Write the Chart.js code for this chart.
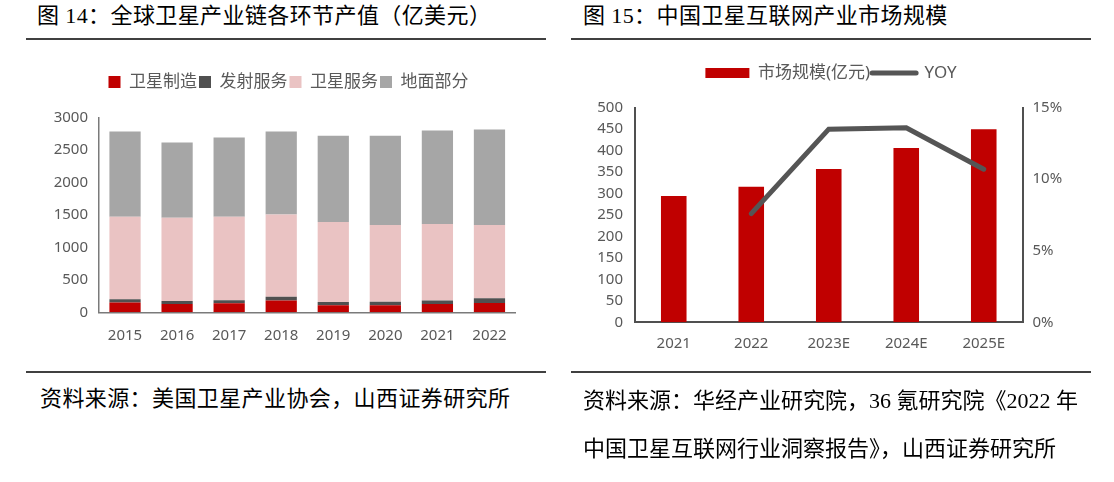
<!DOCTYPE html>
<html><head><meta charset="utf-8">
<script src="https://cdn.jsdelivr.net/npm/chart.js@4.4.0/dist/chart.umd.min.js"></script>
<style>
html,body{margin:0;padding:0;background:#fff;}
body{width:1114px;height:482px;position:relative;overflow:hidden;font-family:"Liberation Serif","Noto Sans CJK SC",serif;color:#000;}
.t{position:absolute;font-size:22px;line-height:30px;white-space:nowrap;letter-spacing:0.4px;}
.src{position:absolute;font-size:22px;line-height:48px;white-space:nowrap;}
.rule{position:absolute;height:2px;background:#404040;}
canvas{position:absolute;}
</style></head><body>
<div class="t" style="left:37px;top:1px">图 14：全球卫星产业链各环节产值（亿美元）</div>
<div class="t" style="left:583px;top:1px">图 15：中国卫星互联网产业市场规模</div>
<div class="rule" style="left:26px;top:38px;width:520px"></div>
<div class="rule" style="left:571px;top:38px;width:520px"></div>
<canvas id="c14" width="577" height="320" style="left:0px;top:50px;width:577px;height:320px"></canvas>
<canvas id="c15" width="539" height="330" style="left:575px;top:40px;width:539px;height:330px"></canvas>
<div class="rule" style="left:26px;top:371px;width:520px"></div>
<div class="rule" style="left:571px;top:371px;width:520px"></div>
<div class="src" style="left:40px;top:375px;letter-spacing:0.4px">资料来源：美国卫星产业协会，山西证券研究所</div>
<div class="src" style="left:583px;top:377px">资料来源：华经产业研究院，36 氪研究院《2022 年<br>中国卫星互联网行业洞察报告》，山西证券研究所</div>
<script>
// ---- Figure 14 data ----
const years14 = ['2015','2016','2017','2018','2019','2020','2021','2022'];
const seriesNames14 = ['卫星制造','发射服务','卫星服务','地面部分'];
const satManufacturing = [150, 128, 138, 180, 108, 108, 128, 143];
const launchServices   = [50, 46, 47, 61, 51, 56, 52, 72];
const satServices      = [1270, 1282, 1287, 1267, 1231, 1179, 1178, 1128];
const groundSegment    = [1315, 1159, 1220, 1277, 1328, 1375, 1442, 1472];
const yTicks14 = [0, 500, 1000, 1500, 2000, 2500, 3000];

// ---- Figure 15 data ----
const years15 = ['2021','2022','2023E','2024E','2025E'];
const seriesNames15 = ['市场规模(亿元)','YOY'];
const marketSize = [294, 316, 357, 406, 450];
const yoyPct = [null, 7.6, 13.5, 13.6, 10.7];
const yTicks15 = [0, 50, 100, 150, 200, 250, 300, 350, 400, 450, 500];
const yTicks15Right = [0, 5, 10, 15];

const FONT = "'Noto Sans', 'Noto Sans CJK SC', sans-serif";
const TICK = '#595959';

const legendGap = {
  id: 'legendGap',
  beforeUpdate(chart, args, opts) {
    const lg = chart.legend;
    if (lg && !lg._gapPatched) {
      const fit = lg.fit;
      lg.fit = function () { fit.call(this); this.height += (opts.extra || 0); };
      lg._gapPatched = true;
    }
  }
};

const colors14 = ['#C00000', '#505050', '#EAC3C3', '#A6A6A6'];
const values14 = [satManufacturing, launchServices, satServices, groundSegment];

new Chart(document.getElementById('c14'), {
  type: 'bar',
  data: {
    labels: years14,
    datasets: seriesNames14.map((n, i) => ({
      label: n, data: values14[i], backgroundColor: colors14[i],
      borderWidth: 0, barPercentage: 0.6, categoryPercentage: 1.0
    }))
  },
  options: {
    responsive: false, animation: false, devicePixelRatio: 1,
    layout: { padding: { top: 21.5, left: 0, right: 0, bottom: 0 } },
    plugins: {
      legend: {
        position: 'top',
        labels: { font: { family: FONT, size: 17 }, color: TICK, boxWidth: 12, boxHeight: 12, padding: 2 }
      },
      legendGap: { extra: 17 },
      tooltip: { enabled: false }
    },
    scales: {
      x: {
        stacked: true,
        grid: { display: false, drawTicks: false },
        border: { display: true, color: '#7a7a7a', width: 1.5 },
        ticks: { font: { family: FONT, size: 15 }, color: TICK, padding: 14, maxRotation: 0 },
        afterFit(s) { s.height = 57.7; }
      },
      y: {
        stacked: true, min: 0, max: 3000,
        grid: { display: false, drawTicks: false },
        border: { display: true, color: '#7a7a7a', width: 1.5 },
        afterBuildTicks(s) { s.ticks = yTicks14.map(v => ({ value: v })); },
        ticks: { font: { family: FONT, size: 15 }, color: TICK, padding: 11, callback: v => String(v) },
        afterFit(s) { s.width = 99; }
      },
      spacer: {
        position: 'right', min: 0, max: 1,
        grid: { display: false, drawTicks: false },
        border: { display: false },
        ticks: { display: false },
        afterFit(s) { s.width = 61.5; }
      }
    }
  },
  plugins: [legendGap]
});

new Chart(document.getElementById('c15'), {
  type: 'bar',
  data: {
    labels: years15,
    datasets: [
      { type: 'bar', label: seriesNames15[0], data: marketSize, backgroundColor: '#C00000',
        borderWidth: 0, barPercentage: 0.33, categoryPercentage: 1.0, yAxisID: 'y', order: 1 },
      { type: 'line', label: seriesNames15[1], data: yoyPct, borderColor: '#555555', backgroundColor: '#555555',
        borderWidth: 5, pointRadius: 0, tension: 0, borderCapStyle: 'round', borderJoinStyle: 'miter',
        yAxisID: 'y1', order: 0 }
    ]
  },
  options: {
    responsive: false, animation: false, devicePixelRatio: 1,
    layout: { padding: { top: 22.5, left: 0, right: 27, bottom: 0 } },
    plugins: {
      legend: {
        position: 'top',
        labels: {
          font: { family: FONT, size: 17 }, color: TICK, padding: 2,
          usePointStyle: true, pointStyleWidth: 44, boxWidth: 44, boxHeight: 10,
          sort: (a, b) => a.datasetIndex - b.datasetIndex,
          generateLabels(chart) {
            const items = Chart.defaults.plugins.legend.labels.generateLabels(chart);
            items.forEach(it => {
              if (it.datasetIndex === 0) { it.pointStyle = 'rect'; it.lineWidth = 0; }
              else { it.pointStyle = 'line'; it.lineWidth = 5; it.strokeStyle = '#555555'; it.lineCap = 'round'; }
            });
            return items;
          }
        }
      },
      legendGap: { extra: 16.2 },
      tooltip: { enabled: false }
    },
    scales: {
      x: {
        grid: { display: false, drawTicks: false },
        border: { display: true, color: '#505050', width: 2 },
        ticks: { font: { family: FONT, size: 15 }, color: TICK, padding: 12, maxRotation: 0 },
        afterFit(s) { s.height = 47.7; }
      },
      y: {
        position: 'left', min: 0, max: 500,
        grid: { display: false, drawTicks: false },
        border: { display: true, color: '#505050', width: 2 },
        afterBuildTicks(s) { s.ticks = yTicks15.map(v => ({ value: v })); },
        ticks: { font: { family: FONT, size: 15 }, color: TICK, padding: 12, callback: v => String(v) },
        afterFit(s) { s.width = 60; }
      },
      y1: {
        position: 'right', min: 0, max: 15,
        grid: { display: false, drawTicks: false },
        border: { display: true, color: '#505050', width: 2 },
        afterBuildTicks(s) { s.ticks = yTicks15Right.map(v => ({ value: v })); },
        ticks: { font: { family: FONT, size: 15 }, color: TICK, padding: 10, callback: v => v + '%' },
        afterFit(s) { s.width = 64.5; }
      }
    }
  },
  plugins: [legendGap]
});
</script>
</body></html>
